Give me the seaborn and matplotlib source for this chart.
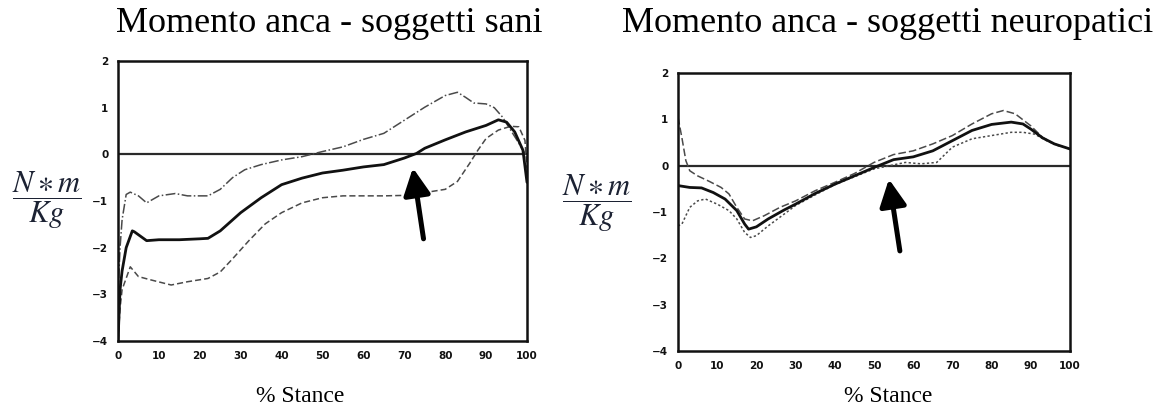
import matplotlib
matplotlib.use("Agg")
import matplotlib.pyplot as plt
import seaborn as sns
import numpy as np

# Hip moment, healthy subjects (% stance vs N*m/Kg)
sani_x = [0, 0.5, 1, 2, 3.5, 4, 7, 10, 15, 20, 22, 25, 30, 35, 40, 45, 50, 55, 60,
          65, 70, 73, 75, 80, 85, 90, 93, 95, 97, 99, 100]
sani_media = [-4.0, -2.9, -2.5, -2.0, -1.64, -1.66, -1.85, -1.83, -1.83, -1.81, -1.80,
              -1.64, -1.25, -0.93, -0.65, -0.51, -0.40, -0.34, -0.27, -0.22, -0.08,
              0.02, 0.13, 0.31, 0.48, 0.62, 0.74, 0.69, 0.48, 0.09, -0.6]

sani_sup_x = [0, 0.5, 1, 2, 3, 5, 7, 10, 14, 17, 22, 25, 28, 31, 35, 40, 45, 50, 55,
              60, 65, 70, 75, 80, 83, 85, 87, 90, 92, 94, 96, 98, 100]
sani_sup = [-3.0, -2.0, -1.4, -0.86, -0.81, -0.89, -1.04, -0.89, -0.84, -0.89, -0.89,
            -0.75, -0.50, -0.33, -0.22, -0.12, -0.05, 0.06, 0.16, 0.32, 0.45, 0.73,
            1.01, 1.26, 1.33, 1.22, 1.10, 1.08, 1.0, 0.8, 0.52, 0.24, -0.05]

sani_inf_x = [0, 0.5, 1, 3, 5, 8, 13, 17, 22, 25, 28, 32, 36, 40, 45, 50, 55, 60, 65,
              70, 75, 80, 83, 86, 88, 90, 93, 96, 98, 99.5, 100]
sani_inf = [-4.0, -3.3, -2.9, -2.41, -2.62, -2.69, -2.80, -2.73, -2.66, -2.52, -2.24,
            -1.85, -1.49, -1.25, -1.04, -0.93, -0.89, -0.89, -0.89, -0.88, -0.82,
            -0.75, -0.58, -0.19, 0.09, 0.34, 0.52, 0.60, 0.59, 0.3, -0.3]

# Hip moment, neuropathic subjects
neuro_x = [0, 3, 6, 9, 12, 15, 17, 18, 20, 23, 27, 30, 35, 40, 45, 50, 55, 60, 65,
           70, 75, 80, 85, 88, 90, 93, 96, 100]
neuro_media = [-0.43, -0.47, -0.48, -0.58, -0.72, -0.97, -1.26, -1.37, -1.32, -1.15,
               -0.96, -0.83, -0.60, -0.40, -0.22, -0.04, 0.13, 0.19, 0.32, 0.54, 0.76,
               0.89, 0.94, 0.90, 0.79, 0.60, 0.47, 0.36]

neuro_sup_x = [0, 1, 2, 3, 5, 8, 11, 13, 15, 17, 19, 22, 26, 30, 35, 40, 45, 50, 55,
               60, 65, 70, 75, 80, 83, 86, 90, 93, 96, 100]
neuro_sup = [1.05, 0.6, 0.11, -0.11, -0.22, -0.34, -0.47, -0.61, -0.90, -1.15, -1.19,
             -1.08, -0.90, -0.76, -0.54, -0.36, -0.17, 0.07, 0.24, 0.32, 0.47, 0.65,
             0.90, 1.12, 1.19, 1.12, 0.86, 0.61, 0.47, 0.36]

neuro_inf_x = [0, 1, 3, 5, 7, 10, 13, 15, 17, 18.5, 20, 23, 27, 30, 35, 40, 45, 50,
               54, 58, 62, 66, 70, 75, 80, 85, 88, 91, 94, 97, 100]
neuro_inf = [-1.3, -1.26, -0.90, -0.76, -0.72, -0.83, -0.97, -1.15, -1.44, -1.55,
             -1.51, -1.30, -1.05, -0.86, -0.63, -0.41, -0.24, -0.07, 0.0, 0.07, 0.04,
             0.07, 0.40, 0.58, 0.65, 0.72, 0.72, 0.68, 0.54, 0.43, 0.36]

x_ticks = [0, 10, 20, 30, 40, 50, 60, 70, 80, 90, 100]
y_ticks = [-4, -3, -2, -1, 0, 1, 2]

sns.set_theme(style="white")
plt.rcParams["mathtext.fontset"] = "stix"

fig = plt.figure(figsize=(11.62, 4.19), dpi=100)
ax_l = fig.add_axes([118 / 1162, 1 - 341 / 419, 409 / 1162, 280 / 419])
ax_r = fig.add_axes([678 / 1162, 1 - 351 / 419, 392 / 1162, 278 / 419])


def draw_panel(ax, xm, ym, xs, ys, xi, yi, sup_style, inf_style, arrow):
    ax.axhline(0, color="#2a2a2a", lw=1.6, zorder=1)
    sns.lineplot(x=xs, y=ys, ax=ax, color="#4a4a4a", lw=1.1, linestyle=sup_style,
                 estimator=None, sort=False)
    sns.lineplot(x=xi, y=yi, ax=ax, color="#4a4a4a", lw=1.1, linestyle=inf_style,
                 estimator=None, sort=False)
    sns.lineplot(x=xm, y=ym, ax=ax, color="#111111", lw=2.0,
                 estimator=None, sort=False)
    ax.set_xlim(0, 100)
    ax.set_ylim(-4, 2)
    ax.set_xticks(x_ticks)
    ax.set_yticks(y_ticks)
    ax.set_xticklabels([str(t) for t in x_ticks])
    ax.set_yticklabels([str(t).replace("-", "\u2212") for t in y_ticks])
    ax.tick_params(axis="both", which="both", direction="out", length=3, width=1,
                   color="#222222", labelsize=7.5, labelcolor="#111111", pad=4)
    for lab in ax.get_xticklabels() + ax.get_yticklabels():
        lab.set_fontweight("bold")
    for sp in ax.spines.values():
        sp.set_visible(True)
        sp.set_color("#111111")
        sp.set_linewidth(1.8)
    ax.set_xlabel("")
    ax.set_ylabel("")
    (tx, ty), (hx, hy) = arrow
    ax.annotate("", xy=(hx, hy), xytext=(tx, ty),
                arrowprops=dict(arrowstyle="-|>,head_width=0.45,head_length=0.9",
                                lw=3.6, color="black", shrinkA=0, shrinkB=0,
                                mutation_scale=18))


draw_panel(ax_l, sani_x, sani_media, sani_sup_x, sani_sup, sani_inf_x, sani_inf,
           "-.", (0, (4, 2)), ((74.7, -1.81), (72.1, -0.29)))
draw_panel(ax_r, neuro_x, neuro_media, neuro_sup_x, neuro_sup, neuro_inf_x, neuro_inf,
           (0, (5, 2)), (0, (1.5, 1.5)), ((56.6, -1.84), (53.8, -0.29)))

serif = ["Liberation Serif", "DejaVu Serif"]
fig.text(329 / 1162, 1 - 23 / 419, "Momento anca - soggetti sani", family=serif,
         fontsize=26, ha="center", va="center", color="black")
fig.text(888 / 1162, 1 - 23 / 419, "Momento anca - soggetti neuropatici", family=serif,
         fontsize=26, ha="center", va="center", color="black")
fig.text(300 / 1162, 1 - 396 / 419, "% Stance", family=serif,
         fontsize=17, ha="center", va="center", color="black")
fig.text(888 / 1162, 1 - 396 / 419, "% Stance", family=serif,
         fontsize=17, ha="center", va="center", color="black")

ylab = r"$\dfrac{N\ast m}{Kg}$"
fig.text(47 / 1162, 1 - 200 / 419, ylab, fontsize=22, ha="center", va="center",
         color="#1c2233")
fig.text(597 / 1162, 1 - 203 / 419, ylab, fontsize=22, ha="center", va="center",
         color="#1c2233")

fig.savefig("out.png", dpi=100, facecolor="white")
